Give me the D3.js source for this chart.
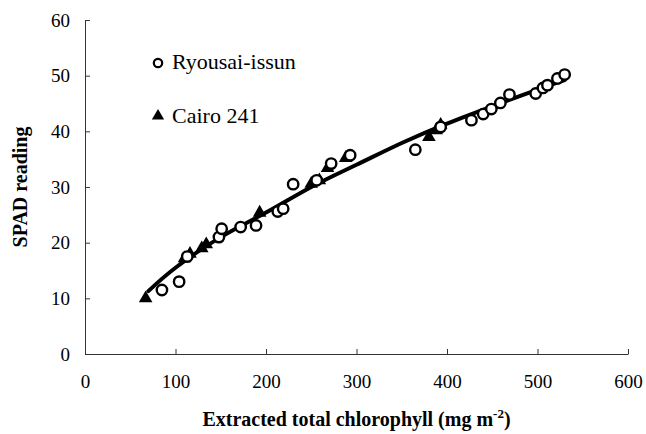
<!DOCTYPE html>
<html>
<head>
<meta charset="utf-8">
<script src="https://cdn.jsdelivr.net/npm/d3@7"></script>
<style>
  body { margin: 0; background: #fff; }
  .serif { font-family: 'Liberation Serif'; }
</style>
</head>
<body>
<div id="chart"></div>
<script>
// data
var ryousai = [
  [85, 11.5], [104, 13], [113, 17.5], [148, 21], [151, 22.5], [172, 22.8],
  [189, 23.1], [213, 25.6], [219, 26.1], [230, 30.5], [256, 31.2], [272, 34.2],
  [293, 35.7], [365, 36.7], [393, 40.8], [427, 42], [440, 43.1], [449, 44],
  [459, 45.1], [469, 46.6], [498, 46.8], [506, 47.8], [511, 48.3], [522, 49.5],
  [530, 50.2]
];
var cairo = [
  [67, 9.8], [110, 17], [116, 17.8], [129, 18.8], [134, 19.5], [193, 25.2],
  [250, 30.4], [259, 31], [268, 33.2], [288, 35], [380, 38.8], [388, 40], [393, 41]
];
// fitted curve, points
var fitLine = [
  [70, 11.3], [100, 15.5], [150, 21], [200, 25.4], [250, 30], [300, 34],
  [350, 37.9], [400, 41.4], [450, 44.5], [500, 47.5], [530, 49.2]
];
var xTicks = [0, 100, 200, 300, 400, 500, 600];
var yTicks = [0, 10, 20, 30, 40, 50, 60];
var legendLabels = ['Ryousai-issun', 'Cairo 241'];

var width = 646, height = 434;
var margin = {left: 85, right: 18, top: 20, bottom: 80};

var svg = d3.select('#chart').append('svg')
  .attr('width', width)
  .attr('height', height);

var x = d3.scaleLinear().domain([0, 600]).range([margin.left, width - margin.right]);
var y = d3.scaleLinear().domain([0, 60]).range([height - margin.bottom, margin.top]);

// axes, ticks point inward
var xAxis = svg.append('g')
  .attr('transform', 'translate(0,' + y(0) + ')')
  .call(d3.axisBottom(x).tickValues(xTicks).tickSizeInner(-5).tickSizeOuter(0).tickPadding(21));
var yAxis = svg.append('g')
  .attr('transform', 'translate(' + x(0) + ',0)')
  .call(d3.axisLeft(y).tickValues(yTicks).tickSizeInner(-5).tickSizeOuter(0).tickPadding(15));

[xAxis, yAxis].forEach(function(a) {
  a.attr('font-family', null);
  a.selectAll('path, line').attr('stroke', '#333').attr('stroke-width', 1);
  a.selectAll('text')
    .attr('class', 'serif')
    .attr('fill', '#000')
    .style('font-size', '19px');
});

// fitted line
var line = d3.line()
  .x(function(d) { return x(d[0]); })
  .y(function(d) { return y(d[1]); })
  .curve(d3.curveNatural);
svg.append('path')
  .datum(fitLine)
  .attr('d', line)
  .attr('fill', 'none')
  .attr('stroke', '#000')
  .attr('stroke-width', 4)
  .attr('stroke-linecap', 'round');

var tri = d3.symbol().type(d3.symbolTriangle).size(80);

svg.append('g').selectAll('path')
  .data(cairo)
  .enter().append('path')
  .attr('d', tri)
  .attr('transform', function(d) { return 'translate(' + x(d[0]) + ',' + (y(d[1]) - 1) + ')'; })
  .attr('fill', '#000');

svg.append('g').selectAll('circle')
  .data(ryousai)
  .enter().append('circle')
  .attr('cx', function(d) { return x(d[0]); })
  .attr('cy', function(d) { return y(d[1]); })
  .attr('r', 5.2)
  .attr('fill', '#fff')
  .attr('stroke', '#000')
  .attr('stroke-width', 2.4);

// legend
var legend = svg.append('g').attr('transform', 'translate(158,0)');
legend.append('circle')
  .attr('cx', 0).attr('cy', 63).attr('r', 4.2)
  .attr('fill', '#fff').attr('stroke', '#000').attr('stroke-width', 2.2);
legend.append('path')
  .attr('d', d3.symbol().type(d3.symbolTriangle).size(65))
  .attr('transform', 'translate(0,116)')
  .attr('fill', '#000');
legend.selectAll('text')
  .data(legendLabels)
  .enter().append('text')
  .attr('class', 'serif')
  .attr('x', 14)
  .attr('y', function(d, i) { return 69 + i * 54; })
  .style('font-size', '22px')
  .text(function(d) { return d; });

// axis titles
svg.append('text')
  .attr('class', 'serif')
  .attr('transform', 'translate(27,' + ((y(0) + y(60)) / 2) + ') rotate(-90)')
  .attr('text-anchor', 'middle')
  .style('font-size', '20px')
  .style('font-weight', 'bold')
  .text('SPAD reading');

var xt = svg.append('text')
  .attr('class', 'serif')
  .attr('x', (x(0) + x(600)) / 2)
  .attr('y', 426)
  .attr('text-anchor', 'middle')
  .style('font-size', '20px')
  .style('font-weight', 'bold');
xt.append('tspan').text('Extracted total chlorophyll (mg m');
xt.append('tspan').attr('dy', -8).style('font-size', '13px').text('-2');
xt.append('tspan').attr('dy', 8).text(')');
</script>
</body>
</html>
